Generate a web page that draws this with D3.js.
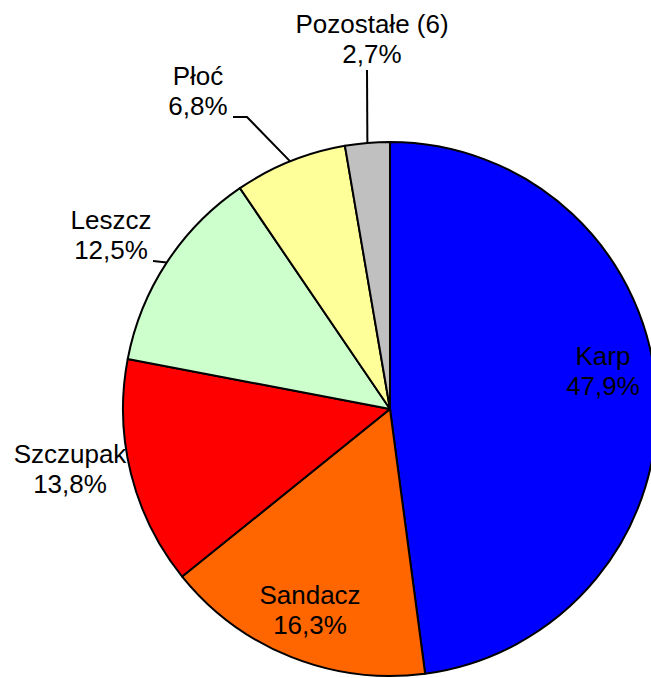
<!DOCTYPE html>
<html>
<head>
<meta charset="utf-8">
<script src="https://cdn.jsdelivr.net/npm/d3@7"></script>
<style>
  body { margin: 0; background: #fff; }
  svg { display: block; }
  .label { font-family: "Liberation Sans", Arial, sans-serif; font-size: 26px; fill: #000; }
</style>
</head>
<body>
<svg id="chart"></svg>
<script>
const width = 651,
      height = 678,
      cx = 390,
      cy = 409,
      radius = 267;

// data
const species = ["Karp", "Sandacz", "Szczupak", "Leszcz", "Płoć", "Pozostałe (6)"];
const shares = [47.9, 16.3, 13.8, 12.5, 6.8, 2.7];
const colors = ["#0000ff", "#ff6600", "#ff0000", "#ccffcc", "#ffff99", "#c0c0c0"];

// label placement (centre x, first baseline) and leader line start points
const labelAt = [
  {x: 603, y: 365, leader: null},
  {x: 310, y: 604, leader: null},
  {x: 70,  y: 463, leader: null},
  {x: 111, y: 229, leader: [[153, 261]]},
  {x: 198, y: 85,  leader: [[233, 117], [247, 117]]},
  {x: 372, y: 33,  leader: [[367, 70]]}
];
const lineGap = 30;

const fmt = v => v.toFixed(1).replace(".", ",") + "%";

let svg = d3.select("#chart")
            .attr("width", width)
            .attr("height", height);

let pie = d3.pie()
            .sort(null)
            .value(i => shares[i]);

let arc = d3.arc()
            .innerRadius(0)
            .outerRadius(radius);

let slices = pie(d3.range(species.length));

let g = svg.append("g")
           .attr("transform", "translate(" + cx + "," + cy + ")");

// slices
g.selectAll(".slice")
 .data(slices)
 .enter().append("path")
 .attr("class", "slice")
 .attr("d", arc)
 .style("fill", d => colors[d.data])
 .style("stroke", "#000")
 .style("stroke-width", 2)
 .style("stroke-linejoin", "round");

// leader lines: from label to slice edge at mid angle
let line = d3.line();
slices.forEach((d, i) => {
  let lp = labelAt[i];
  if (!lp.leader) return;
  let a = (d.startAngle + d.endAngle) / 2;
  let edge = [cx + radius * Math.sin(a), cy - radius * Math.cos(a)];
  svg.append("path")
     .attr("d", line(lp.leader.concat([edge])))
     .style("fill", "none")
     .style("stroke", "#000")
     .style("stroke-width", 2);
});

// labels
slices.forEach((d, i) => {
  let lp = labelAt[i];
  let t = svg.append("text")
             .attr("class", "label")
             .attr("text-anchor", "middle");
  t.append("tspan")
   .attr("x", lp.x)
   .attr("y", lp.y)
   .text(species[d.data]);
  t.append("tspan")
   .attr("x", lp.x)
   .attr("y", lp.y + lineGap)
   .text(fmt(shares[d.data]));
});
</script>
</body>
</html>
